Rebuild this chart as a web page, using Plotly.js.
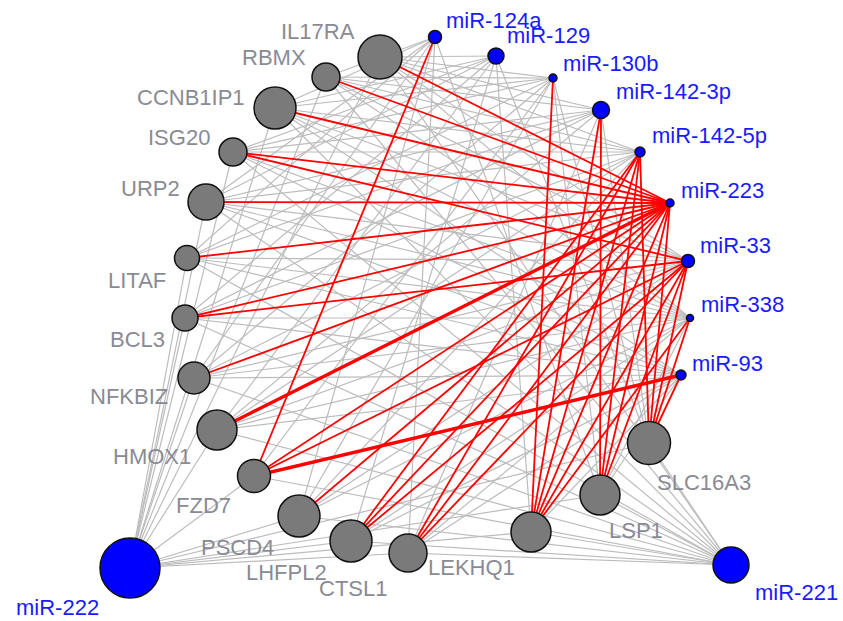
<!DOCTYPE html>
<html>
<head>
<meta charset="utf-8">
<script src="https://cdn.plot.ly/plotly-3.0.1.min.js"></script>
<style>html,body{margin:0;padding:0;background:#fff;}#chart{width:843px;height:621px;}</style>
</head>
<body>
<div id="chart"></div>
<script>
// ---------- DATA ----------
const geneNames = ['IL17RA','RBMX','CCNB1IP1','ISG20','URP2','LITAF','BCL3','NFKBIZ','HMOX1','FZD7','PSCD4','LHFPL2','CTSL1','LEKHQ1','LSP1','SLC16A3'];
const geneX = [380,326,275,233,206,187,185,194,217,254,299,351,408,531,600,649];
const geneY = [57,77,108,152,202,258,318,378,430,476,516,541,553,532,495,443];

const mirNames = ['miR-124a','miR-129','miR-130b','miR-142-3p','miR-142-5p','miR-223','miR-33','miR-338','miR-93','miR-221','miR-222'];
const mirX = [435,496,553,601,640,670,688,690,681,731,130];
const mirY = [37,56,78,110,152,203,261,318,375,565,568];

// red (highlighted) interactions
const redEdges = {
  'miR-124a': ['FZD7'],
  'miR-130b': ['LEKHQ1'],
  'miR-142-3p': ['LSP1','LEKHQ1'],
  'miR-142-5p': ['LEKHQ1','LSP1','SLC16A3','LHFPL2','CTSL1'],
  'miR-223': ['IL17RA','RBMX','CCNB1IP1','ISG20','URP2','LITAF','BCL3','NFKBIZ','FZD7','PSCD4','LHFPL2','CTSL1','LEKHQ1','LSP1','SLC16A3'],
  'miR-33': ['ISG20','BCL3','FZD7','LHFPL2','CTSL1','LEKHQ1','LSP1','SLC16A3'],
  'miR-338': ['LEKHQ1','SLC16A3'],
  'miR-93': ['SLC16A3']
};
// thick red interactions
const redThickEdges = {
  'miR-223': ['HMOX1'],
  'miR-93': ['FZD7']
};
// grey interactions
const greyEdges = {
  'miR-124a': ['RBMX','CCNB1IP1','URP2','LITAF','NFKBIZ','PSCD4','CTSL1','LSP1'],
  'miR-129': ['IL17RA','CCNB1IP1','ISG20','URP2','BCL3','HMOX1','LHFPL2','LEKHQ1','SLC16A3'],
  'miR-130b': ['IL17RA','RBMX','CCNB1IP1','ISG20','LITAF','NFKBIZ','FZD7','PSCD4','LSP1','SLC16A3'],
  'miR-142-3p': ['IL17RA','RBMX','ISG20','URP2','LITAF','BCL3','HMOX1','CTSL1','SLC16A3'],
  'miR-142-5p': ['IL17RA','RBMX','CCNB1IP1','ISG20','URP2','NFKBIZ','BCL3','PSCD4','HMOX1'],
  'miR-33': ['IL17RA','RBMX','CCNB1IP1','URP2','LITAF','NFKBIZ','HMOX1','PSCD4'],
  'miR-338': ['IL17RA','RBMX','CCNB1IP1','ISG20','URP2','LITAF','BCL3','NFKBIZ','HMOX1','PSCD4','LHFPL2','CTSL1','LSP1'],
  'miR-93': ['CCNB1IP1','ISG20','URP2','LITAF','BCL3','NFKBIZ','HMOX1','LHFPL2','CTSL1','LEKHQ1','LSP1'],
  'miR-221': ['IL17RA','RBMX','CCNB1IP1','ISG20','URP2','LITAF','BCL3','NFKBIZ','HMOX1','FZD7','PSCD4','LHFPL2','CTSL1','LEKHQ1','LSP1','SLC16A3'],
  'miR-222': ['IL17RA','RBMX','CCNB1IP1','ISG20','URP2','LITAF','BCL3','NFKBIZ','HMOX1','FZD7','PSCD4','LHFPL2','CTSL1','LEKHQ1','LSP1','SLC16A3']
};

// ---------- STYLE ----------
const geneSize = [44,28,42,28,36,25,26,32,40,33,42,42,38,40,40,43];
const mirSize = [13,16,8,17,10,8,13,7,10,36,60];
const geneLabelOff = [[-62,-26],[-52,-20],[-84,-11],[-54,-15],[-56,-14],[-50,22],[-48,21],[-65,18],[-65,26],[-51,29],[-62,31],[-65,31],[-55,35],[-60,35],[36,35],[55,39]];
const mirLabelOff = [[59,-17],[52,-21],[57,-15],[72,-19],[69,-17],[52,-13],[47,-16],[52,-14],[46,-12],[65,27],[-73,39]];

// ---------- BUILD ----------
function pos(name){
  let i = geneNames.indexOf(name);
  if (i >= 0) return [geneX[i], geneY[i]];
  i = mirNames.indexOf(name);
  return [mirX[i], mirY[i]];
}
function edgeTrace(edges, color, width){
  const xs = [], ys = [];
  Object.keys(edges).forEach(m => {
    const a = pos(m);
    edges[m].forEach(g => {
      const b = pos(g);
      xs.push(a[0], b[0], null);
      ys.push(a[1], b[1], null);
    });
  });
  return {x: xs, y: ys, mode: 'lines', type: 'scatter', line: {color: color, width: width}, hoverinfo: 'skip'};
}

const traces = [
  edgeTrace(greyEdges, '#bcbcbc', 1.2),
  edgeTrace(redEdges, '#ff0000', 1.8),
  edgeTrace(redThickEdges, '#ff0000', 3.4),
  {x: geneX, y: geneY, mode: 'markers', type: 'scatter',
   marker: {size: geneSize, color: '#7a7a7a', opacity: 1, line: {color: '#111', width: 1.5}}, hoverinfo: 'skip'},
  {x: mirX, y: mirY, mode: 'markers', type: 'scatter',
   marker: {size: mirSize, color: '#0000ff', opacity: 1, line: {color: '#111', width: 1.5}}, hoverinfo: 'skip'}
];

const annotations = [];
geneNames.forEach((n, i) => {
  annotations.push({x: geneX[i], y: geneY[i], text: n, showarrow: false,
    xshift: geneLabelOff[i][0], yshift: -geneLabelOff[i][1],
    font: {family: 'Liberation Sans, Arial, sans-serif', size: 22, color: '#8a8a94'}});
});
mirNames.forEach((n, i) => {
  annotations.push({x: mirX[i], y: mirY[i], text: n, showarrow: false,
    xshift: mirLabelOff[i][0], yshift: -mirLabelOff[i][1],
    font: {family: 'Liberation Sans, Arial, sans-serif', size: 22, color: '#1a1aff'}});
});

const layout = {
  width: 843, height: 621,
  margin: {l: 0, r: 0, t: 0, b: 0},
  paper_bgcolor: '#fff', plot_bgcolor: '#fff',
  showlegend: false, hovermode: false,
  xaxis: {range: [0, 843], visible: false, fixedrange: true},
  yaxis: {range: [621, 0], visible: false, fixedrange: true},
  annotations: annotations
};

Plotly.newPlot('chart', traces, layout, {displayModeBar: false, staticPlot: true});
</script>
</body>
</html>
